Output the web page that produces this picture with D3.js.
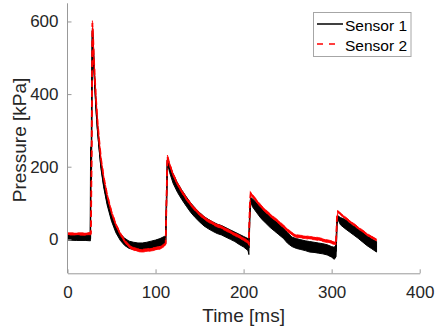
<!DOCTYPE html>
<html><head><meta charset="utf-8">
<script src="https://cdn.jsdelivr.net/npm/d3@7"></script>
<style>body{margin:0;background:#fff}svg{display:block}</style>
</head><body>
<svg id="c" width="440" height="332"></svg>
<script>
// Data (time in ms, pressure in kPa, noisy band low/high)
const time = [0,10,20,26,26.5,27,27.5,28.3,29,30,31,32.5,34,36,38,41,45,50,55,60,65,70,75,80,85,90,95,100,105,110,111.5,112.5,113.5,116,120,125,130,135,140,145,150,155,160,165,170,175,180,185,190,195,200,205,206,207,208,210,215,220,225,230,235,240,245,250,255,260,265,270,275,280,285,290,295,300,303,305,306,307,310,315,320,325,330,335,340,345,351];
const sensor1Low  = [-2,-3,-3,-4,240,150,350,568,540,470,420,352,300,245,195,145,95,50,18,-3,-17,-25,-28,-30,-30,-28,-25,-22,-18,-15,-12,100,210,184,154,129,109,91,74,60,48,37,29,22,16,12,6,0,-6,-14,-21,-31,-42,60,105,90,73,57,45,33,23,13,3,-11,-20,-25,-28,-31,-35,-36,-38,-40,-43,-49,-55,-48,40,55,40,30,21,12,3,-7,-17,-25,-35];
const sensor1High = [12,11,11,12,255,170,370,582,558,488,438,370,318,263,213,163,113,68,36,15,3,-5,-8,-10,-10,-8,-5,-2,2,8,10,120,226,205,180,155,135,117,100,86,74,63,55,48,42,38,32,26,20,14,8,2,-5,80,115,112,100,88,75,63,53,43,32,18,6,2,-1,-4,-6,-8,-10,-12,-15,-20,-22,-15,60,65,60,55,46,37,28,20,10,2,-6];
const sensor2Low  = [12,12,11,12,13,100,250,590,555,490,440,375,322,268,218,168,118,71,36,11,-9,-23,-30,-34,-35,-34,-32,-30,-27,-20,-16,100,224,202,174,148,127,108,92,78,66,55,47,40,34,29,23,16,10,3,-3,-12,-16,80,123,116,101,86,74,63,53,43,32,21,11,5,3,2,0,-1,-3,-6,-9,-12,-14,-15,50,73,67,57,47,38,29,20,11,3,-4];
const sensor2High = [18,18,18,19,19,130,280,602,570,505,455,390,333,277,227,177,127,79,44,19,-1,-15,-22,-26,-27,-26,-24,-22,-19,-12,-8,130,232,210,182,156,135,116,100,86,74,63,55,48,42,37,31,24,18,11,5,-4,-8,100,131,124,109,94,82,71,61,51,40,29,19,13,11,10,8,7,5,2,-1,-4,-6,-7,70,79,73,63,53,44,35,26,17,9,2];
const xTicks = [0,100,200,300,400];
const yTicks = [0,200,400,600];
const seriesNames = ["Sensor 1","Sensor 2"];

const svg = d3.select("#c");
const font = "'Liberation Sans', Arial, Helvetica, sans-serif";
const txt = "#262626";
const x = d3.scaleLinear().domain([0,400]).range([67.5,419.7]);
const y = d3.scaleLinear().domain([-93.5,650]).range([273.3,3.3]);

const rows = time.map((t,i)=>({t, a:sensor1Low[i], b:sensor1High[i], c:sensor2Low[i], d:sensor2High[i]}));

const area1 = d3.area().x(d=>x(d.t)).y0(d=>y(d.a)).y1(d=>y(d.b));
const area2 = d3.area().x(d=>x(d.t)).y0(d=>y(d.c)).y1(d=>y(d.d));
const line1 = d3.line().x(d=>x(d.t)).y(d=>y((d.a+d.b)/2));
const line2 = d3.line().x(d=>x(d.t)).y(d=>y((d.c+d.d)/2));

svg.append("path").datum(rows).attr("d",area1).attr("fill","#000").attr("stroke","#000").attr("stroke-width",1);
svg.append("path").datum(rows).attr("d",line1).attr("fill","none").attr("stroke","#000").attr("stroke-width",1.5);
svg.append("path").datum(rows).attr("d",area2).attr("fill","#ff0000").attr("stroke","#ff0000").attr("stroke-width",0.8).attr("stroke-dasharray","6,4");
svg.append("path").datum(rows).attr("d",line2).attr("fill","none").attr("stroke","#ff0000").attr("stroke-width",1.8).attr("stroke-dasharray","6,4");

// axes
const xAxis = d3.axisBottom(x).tickValues(xTicks).tickSizeInner(-4).tickSizeOuter(0).tickPadding(9);
const yAxis = d3.axisLeft(y).tickValues(yTicks).tickSizeInner(-4).tickSizeOuter(0).tickPadding(9);
const gx = svg.append("g").attr("transform","translate(0,273.3)").call(xAxis);
const gy = svg.append("g").attr("transform","translate(67.5,0)").call(yAxis);
gy.select(".domain").attr("d",`M0,${y.range()[0]}V${y.range()[1]}`);
[gx,gy].forEach(g=>{
  g.selectAll(".domain").attr("stroke","#999").attr("stroke-width",1);
  g.selectAll(".tick line").attr("stroke","#999");
  g.selectAll(".tick text").attr("fill",txt).attr("font-family",font).attr("font-size","17px");
});
gx.selectAll(".tick text").attr("dy","0.95em");

svg.append("text").attr("x",243.6).attr("y",321.5).attr("text-anchor","middle")
  .attr("font-family",font).attr("font-size","19px").attr("fill",txt).text("Time [ms]");
svg.append("text").attr("transform","translate(26,140) rotate(-90)").attr("text-anchor","middle")
  .attr("font-family",font).attr("font-size","19px").attr("fill",txt).text("Pressure [kPa]");

// legend
const lg = svg.append("g");
lg.append("rect").attr("x",313.5).attr("y",12.5).attr("width",97.5).attr("height",44)
  .attr("fill","#fff").attr("stroke","#a6a6a6").attr("stroke-width",1);
lg.append("line").attr("x1",317).attr("x2",343).attr("y1",24).attr("y2",24).attr("stroke","#000").attr("stroke-width",1.5);
lg.append("line").attr("x1",317).attr("x2",337).attr("y1",44).attr("y2",44).attr("stroke","#ff0000").attr("stroke-width",1.5).attr("stroke-dasharray","6,6");
seriesNames.forEach((n,i)=>{
  lg.append("text").attr("x",345).attr("y",30.5+20*i).attr("font-family",font).attr("font-size","15.5px").attr("fill","#000").text(n);
});
</script>
</body></html>
